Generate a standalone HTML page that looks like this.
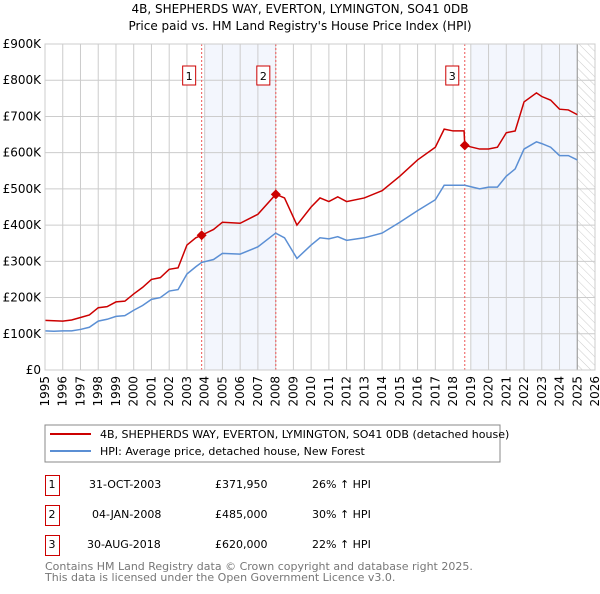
<!DOCTYPE html>
<html><head><meta charset="utf-8"><style>
body{margin:0;background:#fff;font-family:"DejaVu Sans","Liberation Sans",sans-serif;}
svg text{font-family:"DejaVu Sans","Liberation Sans",sans-serif;}
</style></head><body>
<svg id="c" width="600" height="590" xmlns="http://www.w3.org/2000/svg">
<defs><pattern id="hatch" width="6" height="6" patternUnits="userSpaceOnUse" patternTransform="rotate(-45)"><line x1="0" y1="0" x2="0" y2="6" stroke="#ccc" stroke-width="1"/></pattern></defs>
<text x="300" y="13" text-anchor="middle" font-size="12">4B, SHEPHERDS WAY, EVERTON, LYMINGTON, SO41 0DB</text>
<text x="300" y="30" text-anchor="middle" font-size="12">Price paid vs. HM Land Registry's House Price Index (HPI)</text>
<g id="plot"></g>
<rect x="45" y="425" width="455" height="37" fill="#fff" stroke="#888"/>
<line x1="50" y1="434" x2="91" y2="434" stroke="#cc0000" stroke-width="2"/>
<text x="100" y="438" font-size="11">4B, SHEPHERDS WAY, EVERTON, LYMINGTON, SO41 0DB (detached house)</text>
<line x1="50" y1="451" x2="91" y2="451" stroke="#5b8fd4" stroke-width="2"/>
<text x="100" y="455" font-size="11">HPI: Average price, detached house, New Forest</text>
<g font-size="11">
<rect x="45.5" y="475.5" width="14" height="20" fill="none" stroke="#cc0000"/><text x="52" y="488" text-anchor="middle">1</text>
<text x="89" y="488">31-OCT-2003</text><text x="215" y="488">£371,950</text><text x="312" y="488">26% ↑ HPI</text>
<rect x="45.5" y="505.5" width="14" height="20" fill="none" stroke="#cc0000"/><text x="52" y="518" text-anchor="middle">2</text>
<text x="92" y="518">04-JAN-2008</text><text x="215" y="518">£485,000</text><text x="312" y="518">30% ↑ HPI</text>
<rect x="45.5" y="535.5" width="14" height="20" fill="none" stroke="#cc0000"/><text x="52" y="548" text-anchor="middle">3</text>
<text x="87" y="548">30-AUG-2018</text><text x="215" y="548">£620,000</text><text x="312" y="548">22% ↑ HPI</text>
</g>
<text x="45" y="570" font-size="11" fill="#777">Contains HM Land Registry data © Crown copyright and database right 2025.</text>
<text x="45" y="581" font-size="11" fill="#777">This data is licensed under the Open Government Licence v3.0.</text>
</svg>
<script>
const yTicks=[0,100,200,300,400,500,600,700,800,900];
const yTickLabels=["£0","£100K","£200K","£300K","£400K","£500K","£600K","£700K","£800K","£900K"];
const xYears=[1995,1996,1997,1998,1999,2000,2001,2002,2003,2004,2005,2006,2007,2008,2009,2010,2011,2012,2013,2014,2015,2016,2017,2018,2019,2020,2021,2022,2023,2024,2025,2026];
const hpiDates=[1995,1995.5,1996,1996.5,1997,1997.5,1998,1998.5,1999,1999.5,2000,2000.5,2001,2001.5,2002,2002.5,2003,2003.5,2003.83,2004.5,2005,2006,2007,2008,2008.5,2009.2,2010,2010.5,2011,2011.5,2012,2013,2014,2015,2016,2017,2017.5,2018,2018.66,2019.5,2020,2020.5,2021,2021.5,2022,2022.7,2023,2023.5,2024,2024.5,2025];
const hpiValues=[108,107,108,108,112,118,135,140,148,150,165,178,195,200,218,222,265,285,297,305,322,320,340,378,365,308,345,365,362,368,358,365,378,408,440,470,510,510,510,500,505,505,535,555,610,630,625,615,592,592,580];
const priceDates=[1995,1995.5,1996,1996.5,1997,1997.5,1998,1998.5,1999,1999.5,2000,2000.5,2001,2001.5,2002,2002.5,2003,2003.5,2003.83,2004.5,2005,2006,2007,2008.01,2008.5,2009.2,2010,2010.5,2011,2011.5,2012,2013,2014,2015,2016,2017,2017.5,2018,2018.62,2018.66,2019.5,2020,2020.5,2021,2021.5,2022,2022.7,2023,2023.5,2024,2024.5,2025];
const priceValues=[137,136,135,138,145,152,172,175,188,190,210,228,250,255,278,282,345,365,372,388,408,405,430,485,475,400,450,475,465,478,465,475,495,535,580,615,665,660,660,620,610,610,615,655,660,740,765,755,745,720,718,705];
const saleDates=[2003.83,2008.01,2018.66];
const salePrices=[371.95,485,620];
const saleLabels=["1","2","3"];
const shadeRanges=[[2004.0,2008.01],[2019.0,2025.0]];

const X0=45,X1=595,Y0=370,Y1=44,T0=1995,T1=2026,V1=900;
const sx=t=>X0+(t-T0)/(T1-T0)*(X1-X0);
const sy=v=>Y0-v/V1*(Y0-Y1);
const NS="http://www.w3.org/2000/svg";
const g=document.getElementById('plot');
function mk(tag,at,parent){const e=document.createElementNS(NS,tag);for(const k in at)e.setAttribute(k,at[k]);(parent||g).appendChild(e);return e;}
shadeRanges.forEach(r=>{
 const e=mk('rect',{x:sx(r[0]),y:Y1,width:sx(r[1])-sx(r[0]),height:Y0-Y1,fill:'#f3f6fd'});
 
 
});
const h=mk('rect',{x:sx(2025),y:Y1,width:X1-sx(2025),height:Y0-Y1,fill:'url(#hatch)'});


yTicks.forEach((v,i)=>{
 const l=mk('line',{x1:X0,x2:X1,y1:sy(v),y2:sy(v),stroke:'#ccc'});
 
 
 const t=mk('text',{x:X0-4,y:sy(v)+4,'text-anchor':'end','font-size':12});
 t.textContent=yTickLabels[i];
 
 
});
xYears.forEach(y=>{
 const l=mk('line',{x1:sx(y),x2:sx(y),y1:Y1,y2:Y0,stroke:'#ccc'});
 
 
 const t=mk('text',{x:0,y:0,'font-size':12,'text-anchor':'end',transform:`translate(${sx(y)+4},${Y0+6}) rotate(-90)`});
 t.textContent=y;
 
 
});
const ax=mk('line',{x1:sx(2025),x2:sx(2025),y1:Y1,y2:Y0,stroke:'#999'});


saleDates.forEach((d,i)=>{
 const l=mk('line',{x1:sx(d),x2:sx(d),y1:Y1,y2:Y0,stroke:'#e55','stroke-dasharray':'2,2'});
 
 
 const b=mk('rect',{x:sx(d)-19,y:66,width:13,height:19,fill:'#fff',stroke:'#cc0000'});
 
 
 const t=mk('text',{x:sx(d)-12.5,y:80,'text-anchor':'middle','font-size':11});
 t.textContent=saleLabels[i];
 
 
});
const hp=mk('polyline',{points:hpiDates.map((d,i)=>sx(d)+','+sy(hpiValues[i])).join(' '),fill:'none',stroke:'#5b8fd4','stroke-width':1.5});


const pp=mk('polyline',{points:priceDates.map((d,i)=>sx(d)+','+sy(priceValues[i])).join(' '),fill:'none',stroke:'#cc0000','stroke-width':1.5});


saleDates.forEach((d,i)=>{
 const x=sx(d),y=sy(salePrices[i]);
 const p=mk('polygon',{points:`${x},${y-5} ${x+5},${y} ${x},${y+5} ${x-5},${y}`,fill:'#cc0000'});
 
 
});
const fr=mk('rect',{x:X0,y:Y1,width:X1-X0,height:Y0-Y1,fill:'none',stroke:'#ccc'});


</script>
</body></html>
